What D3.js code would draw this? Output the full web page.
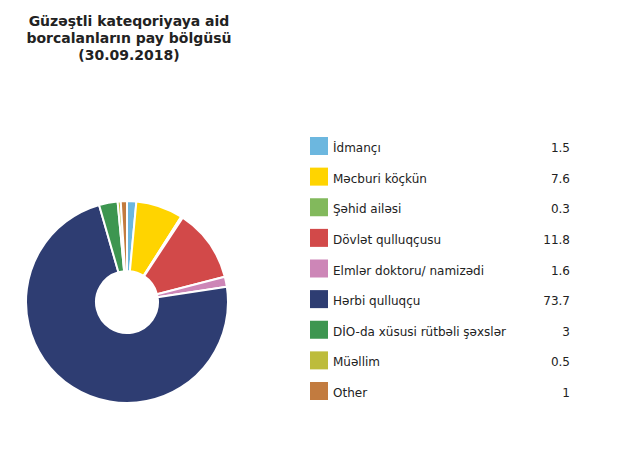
<!DOCTYPE html>
<html><head><meta charset="utf-8">
<script src="https://cdn.jsdelivr.net/npm/d3@7"></script>
<style>body{margin:0;background:#fff;}svg{display:block;}</style>
</head><body>
<svg id="c" width="620" height="454"></svg>
<script>
const titleLines = ["Güzəştli kateqoriyaya aid", "borcalanların pay bölgüsü", "(30.09.2018)"];
const categories = ["İdmançı", "Məcburi köçkün", "Şəhid ailəsi", "Dövlət qulluqçusu", "Elmlər doktoru/ namizədi", "Hərbi qulluqçu", "DİO-da xüsusi rütbəli şəxslər", "Müəllim", "Other"];
const values = [1.5, 7.6, 0.3, 11.8, 1.6, 73.7, 3, 0.5, 1];
const valueLabels = ["1.5", "7.6", "0.3", "11.8", "1.6", "73.7", "3", "0.5", "1"];
const colors = ["#6cb7df", "#ffd400", "#82b95c", "#d24949", "#cd86b7", "#2e3d72", "#3d9650", "#bdbc3b", "#c27b3f"];

const svg = d3.select("#c");
const font = "Verdana, 'DejaVu Sans', sans-serif";

svg.append("g").selectAll("text").data(titleLines).join("text")
  .attr("x", 129).attr("y", (d, i) => 26 + i * 17)
  .attr("text-anchor", "middle")
  .attr("font-family", font).attr("font-weight", "bold").attr("font-size", 14)
  .attr("fill", "#222").text(d => d);

const cx = 127, cy = 302, R = 101, r = 31;
const pie = d3.pie().sort(null).value(d => d.v);
const arc = d3.arc().innerRadius(r).outerRadius(R);
const data = categories.map((c, i) => ({c, v: values[i], col: colors[i]}));
svg.append("g").attr("transform", `translate(${cx},${cy})`)
  .selectAll("path").data(pie(data)).join("path")
  .attr("d", arc).attr("fill", d => d.data.col)
  .attr("stroke", "#fff").attr("stroke-width", 2).attr("stroke-linejoin", "round");

const y = d3.scalePoint().domain(categories).range([146, 391]);
const lg = svg.append("g");
const rows = lg.selectAll("g").data(data).join("g")
  .attr("transform", d => `translate(0,${y(d.c)})`);
rows.append("rect").attr("x", 310).attr("y", -9).attr("width", 18).attr("height", 18).attr("fill", d => d.col);
rows.append("text").attr("x", 333).attr("y", 6)
  .attr("font-family", font).attr("font-size", 12).attr("fill", "#222").text(d => d.c);
rows.append("text").attr("x", 570).attr("y", 6).attr("text-anchor", "end")
  .attr("font-family", font).attr("font-size", 12).attr("fill", "#222").text((d, i) => valueLabels[i]);
</script>
</body></html>
